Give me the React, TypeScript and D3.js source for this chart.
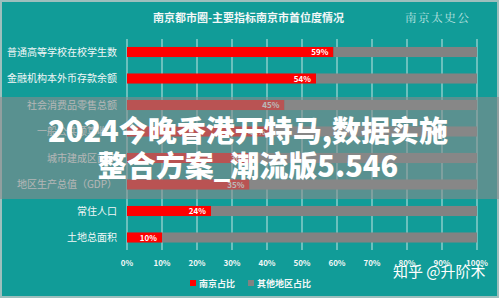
import React from 'react';
import * as d3 from 'd3';

const categories = ['普通高等学校在校学生数', '金融机构本外币存款余额', '社会消费品零售总额', '一般公共预算收入', '城市建成区面积', '地区生产总值（GDP）', '常住人口', '土地总面积'];
const nanjingShare = [59, 54, 45, 41, 36, 35, 24, 10];
const otherShare = [41, 46, 55, 59, 64, 65, 76, 90];
const ticks = [0, 10, 20, 30, 40, 50, 60, 70, 80, 90, 100];
const title = '南京都市圈-主要指标南京市首位度情况';
const legendLabels = ['南京占比', '其他地区占比'];

const W = 499;
const H = 298;
const FONT = '"Noto Sans CJK SC", "Noto Sans", sans-serif';

export default function App() {
  const x = d3.scaleLinear().domain([0, 100]).range([127, 477]);
  const y = d3.scaleBand<string>().domain(categories).range([38.75, 250.75]).paddingInner(0.62).paddingOuter(0.31);
  const bw = y.bandwidth();
  const red = '#ff0000';
  const gray = '#828282';
  const txt = '#f2f7f7';

  return (
    <svg width={W} height={H} style={{ position: 'absolute', left: 0, top: 0 }} fontFamily={FONT}>
      <rect x={0} y={0} width={W} height={H} fill="#119c98" />
      <rect x={1} y={1} width={W - 2} height={H - 2} fill="none" stroke="#9dbfbd" strokeWidth={2} />
      <text x={248.5} y={22} textAnchor="middle" fontSize={11} fontWeight={700} fill={txt}>{title}</text>
      <text x={405} y={22} fontSize={11.5} fill="#bfe3e0" fontFamily='"Noto Serif CJK SC", "Noto Sans CJK SC", serif' letterSpacing={1.6}>南京太史公</text>
      {ticks.map((t) => (
        <line key={'g' + t} x1={x(t)} x2={x(t)} y1={39} y2={250} stroke="#c6e4e2" strokeWidth={1} />
      ))}
      {categories.map((c, i) => {
        const yy = y(c) as number;
        return (
          <g key={c}>
            <rect x={x(0)} y={yy} width={x(nanjingShare[i]) - x(0)} height={bw} fill={red} />
            <rect x={x(nanjingShare[i])} y={yy} width={x(nanjingShare[i] + otherShare[i]) - x(nanjingShare[i])} height={bw} fill={gray} />
            <text x={x(nanjingShare[i]) - 5} y={yy + bw / 2 + 3} textAnchor="end" fontSize={8} fontWeight={600} fill="#ffffff">{nanjingShare[i]}%</text>
            <text x={117} y={yy + bw / 2 + 3.5} textAnchor="end" fontSize={10} fill={txt}>{c}</text>
          </g>
        );
      })}
      {ticks.map((t) => (
        <text key={'t' + t} x={x(t)} y={266} textAnchor="middle" fontSize={8} fontWeight={700} fill={txt}>{t}%</text>
      ))}
      <rect x={190} y={280} width={6} height={6} fill={red} />
      <text x={199} y={286.5} fontSize={9} fontWeight={700} fill={txt}>{legendLabels[0]}</text>
      <rect x={248} y={280} width={6} height={6} fill={gray} />
      <text x={257} y={286.5} fontSize={9} fontWeight={700} fill={txt}>{legendLabels[1]}</text>
      <text x={393} y={277} fontSize={15} fill="#ffffff">知乎 @升阶术</text>
      <rect x={0} y={97} width={W} height={102} fill="#8a8a8a" opacity={0.6} />
      <text x={248} y={142} textAnchor="middle" fontSize={29} fontWeight={900} fill="#ffffff">2024今晚香港开特马,数据实施</text>
      <text x={248} y={177} textAnchor="middle" fontSize={29} fontWeight={900} fill="#ffffff">整合方案_潮流版5.546</text>
    </svg>
  );
}
